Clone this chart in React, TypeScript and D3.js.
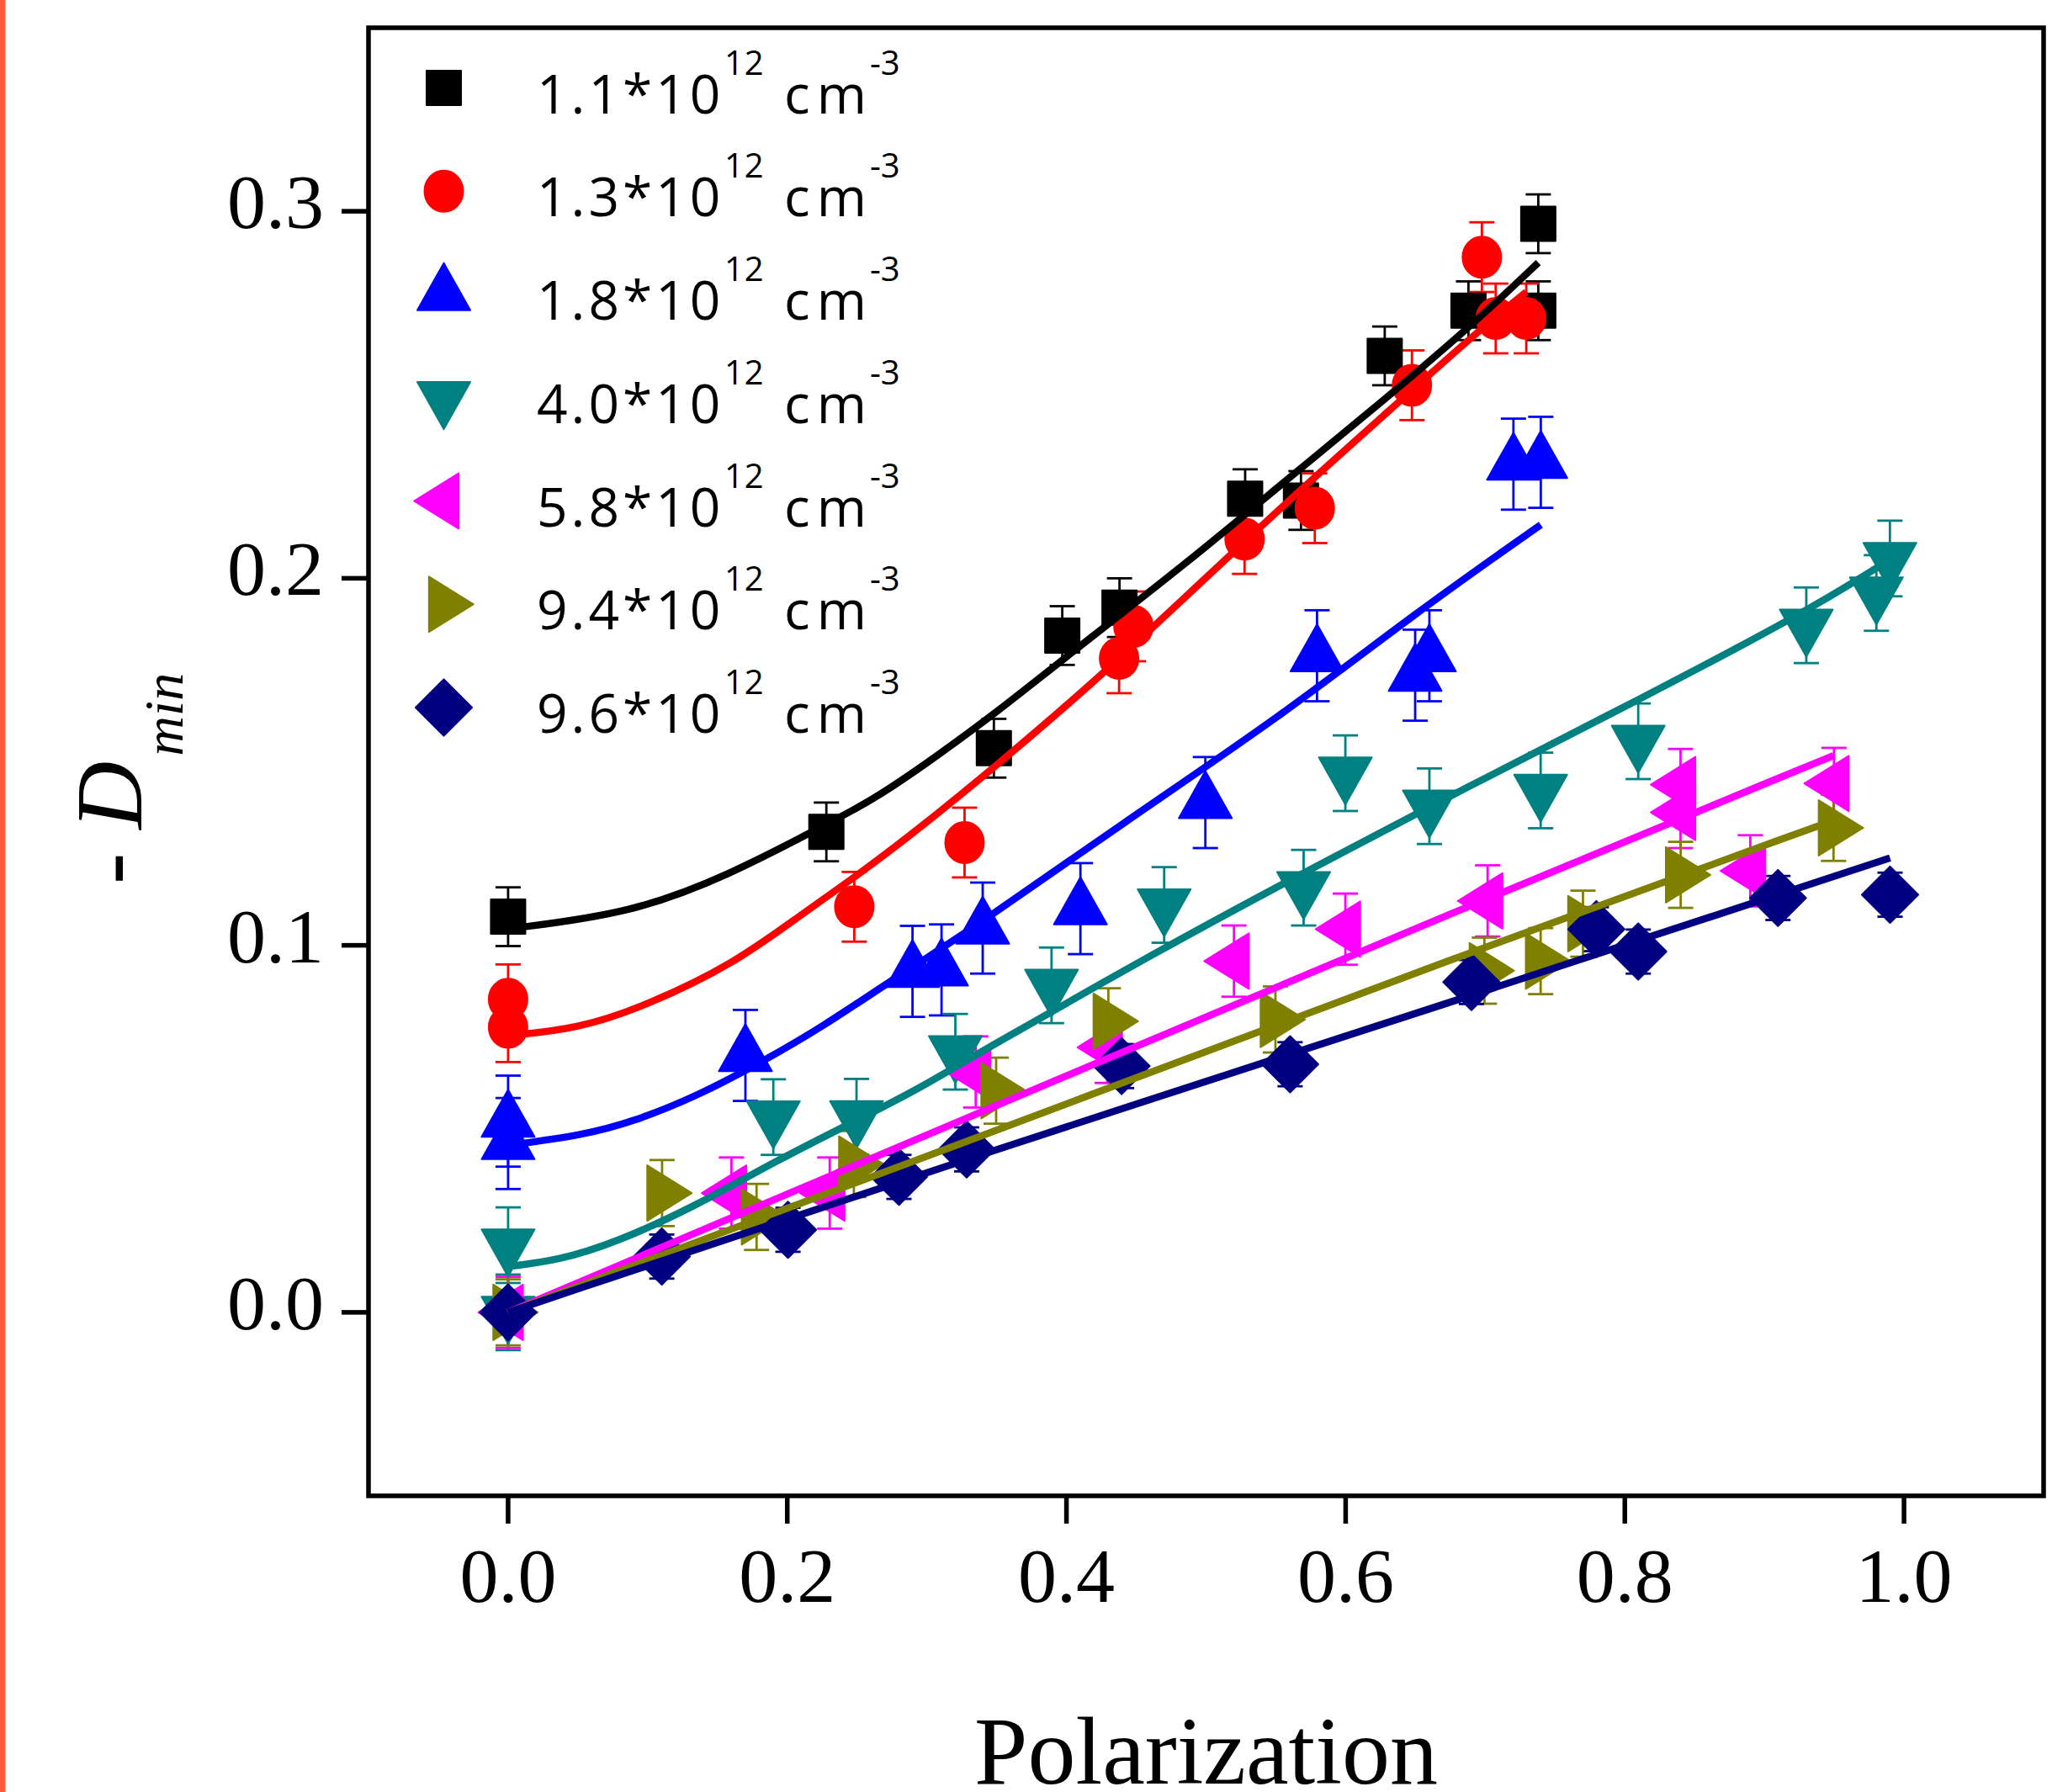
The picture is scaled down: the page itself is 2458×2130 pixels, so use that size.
import React, { useEffect } from "react";
import * as d3 from "d3";

const W = 2458;
const H = 2130;

// ---------- data ----------
const xTicks = [0, 0.2, 0.4, 0.6, 0.8, 1.0];
const yTicks = [0, 0.1, 0.2, 0.3];
const legendLabels = ["1.1", "1.3", "1.8", "4.0", "5.8", "9.4", "9.6"];
const seriesColors = ["#000000", "#FF0000", "#0000FF", "#008080", "#FF00FF", "#808000", "#000080"];
const seriesShapes = ["square", "circle", "up", "down", "left", "right", "diamond"];
const seriesErr = [0.008, 0.0095, 0.0124, 0.0103, 0.0097, 0.009, 0.006];

const blackX = [0, 0.228, 0.348, 0.397, 0.438, 0.528, 0.568, 0.628, 0.688, 0.738, 0.738];
const blackY = [0.1078, 0.1309, 0.1537, 0.1844, 0.192, 0.2217, 0.2212, 0.2606, 0.2729, 0.2729, 0.2966];

const redX = [0, 0, 0.248, 0.327, 0.4377, 0.448, 0.5276, 0.5779, 0.6475, 0.6976, 0.7075, 0.7294];
const redY = [0.0853, 0.0777, 0.1105, 0.128, 0.1782, 0.1869, 0.2107, 0.2191, 0.2526, 0.2875, 0.2708, 0.2708];

const blueX = [0, 0, 0.17, 0.2897, 0.3105, 0.34, 0.41, 0.4995, 0.5795, 0.6498, 0.66, 0.7202, 0.7398];
const blueY = [0.0521, 0.046, 0.07, 0.0929, 0.0933, 0.1047, 0.11, 0.1389, 0.1789, 0.1736, 0.1789, 0.2311, 0.2316];

const tealX = [0, 0, 0.19, 0.2496, 0.3204, 0.3893, 0.47, 0.5699, 0.5998, 0.66, 0.7397, 0.8096, 0.93, 0.9802, 0.9899];
const tealY = [0.0183, 0.0, 0.0532, 0.0533, 0.071, 0.0891, 0.111, 0.1157, 0.1469, 0.1379, 0.1422, 0.1556, 0.1872, 0.196, 0.2054];

const magentaX = [0, 0.16, 0.2304, 0.335, 0.4292, 0.52, 0.5998, 0.7017, 0.8399, 0.8399, 0.8899, 0.9498];
const magentaY = [0, 0.0325, 0.0325, 0.0655, 0.0722, 0.0957, 0.1044, 0.1121, 0.1438, 0.1362, 0.1203, 0.1441];

const oliveX = [0, 0.1103, 0.178, 0.2477, 0.3496, 0.43, 0.5497, 0.6994, 0.7397, 0.77, 0.84, 0.9495];
const oliveY = [0, 0.0325, 0.026, 0.0404, 0.0604, 0.0793, 0.0798, 0.0931, 0.0957, 0.1059, 0.1192, 0.132];

const navyX = [0, 0.1101, 0.2005, 0.28, 0.3285, 0.4395, 0.5602, 0.6901, 0.7796, 0.8096, 0.9097, 0.99];
const navyY = [0, 0.0152, 0.0225, 0.0369, 0.0444, 0.0671, 0.0676, 0.09, 0.1044, 0.0983, 0.1129, 0.1138];

// fitted curves
const blackFitX = [0, 0.09, 0.16, 0.2154, 0.2616, 0.3069, 0.35, 0.395, 0.4884, 0.5576, 0.6268, 0.6959, 0.738];
const blackFitY = [0.1045, 0.1088, 0.1195, 0.1305, 0.1395, 0.1515, 0.1635, 0.1772, 0.2048, 0.2268, 0.2483, 0.2708, 0.286];

const redFitX = [0, 0.05, 0.1, 0.1624, 0.2086, 0.25, 0.2915, 0.35, 0.4192, 0.4884, 0.5576, 0.6268, 0.6959, 0.7294];
const redFitY = [0.0754, 0.0772, 0.0837, 0.0951, 0.108, 0.119, 0.1309, 0.149, 0.1715, 0.196, 0.2207, 0.2442, 0.2677, 0.278];

const blueFitX = [0, 0.054, 0.0886, 0.1348, 0.1808, 0.227, 0.2731, 0.3349, 0.4395, 0.5548, 0.6498, 0.7398];
const blueFitY = [0.0455, 0.0483, 0.0518, 0.0588, 0.068, 0.0782, 0.0901, 0.105, 0.1331, 0.1627, 0.1905, 0.2146];

const tealFitX = [0, 0.0356, 0.0771, 0.1347, 0.1924, 0.2499, 0.2962, 0.3349, 0.4672, 0.5594, 0.6904, 0.8096, 0.93, 0.9819];
const tealFitY = [0.0125, 0.0141, 0.019, 0.029, 0.0414, 0.0523, 0.0613, 0.0702, 0.0988, 0.1177, 0.1438, 0.1668, 0.1909, 0.2032];

const magentaFitX = [0, 0.329, 0.6904, 0.9495];
const magentaFitY = [0, 0.053, 0.1112, 0.1517];

const oliveFitX = [0, 0.329, 0.6904, 0.9495];
const oliveFitY = [0, 0.0465, 0.0985, 0.134];

const navyFitX = [0, 0.329, 0.6904, 0.99];
const navyFitY = [0, 0.042, 0.0863, 0.1238];

const pointXs = [blackX, redX, blueX, tealX, magentaX, oliveX, navyX];
const pointYs = [blackY, redY, blueY, tealY, magentaY, oliveY, navyY];
const fitXs = [blackFitX, redFitX, blueFitX, tealFitX, magentaFitX, oliveFitX, navyFitX];
const fitYs = [blackFitY, redFitY, blueFitY, tealFitY, magentaFitY, oliveFitY, navyFitY];

// ---------- marker shapes ----------
function markerPath(shape: string): string {
  switch (shape) {
    case "square": {
      const s = 20.5;
      return `M${-s},${-s}H${s}V${s}H${-s}Z`;
    }
    case "circle": {
      const rx = 23, ry = 24.5;
      return `M${rx},0A${rx},${ry} 0 1,1 ${-rx},0A${rx},${ry} 0 1,1 ${rx},0Z`;
    }
    case "up": {
      const b = 63, h = 56;
      return `M0,${(-2 * h) / 3}L${b / 2},${h / 3}L${-b / 2},${h / 3}Z`;
    }
    case "down": {
      const b = 63, h = 56;
      return `M0,${(2 * h) / 3}L${b / 2},${-h / 3}L${-b / 2},${-h / 3}Z`;
    }
    case "left": {
      const b = 66, w = 53;
      return `M${(-2 * w) / 3},0L${w / 3},${-b / 2}L${w / 3},${b / 2}Z`;
    }
    case "right": {
      const b = 66, w = 53;
      return `M${(2 * w) / 3},0L${-w / 3},${-b / 2}L${-w / 3},${b / 2}Z`;
    }
    default: {
      const a = 33.5;
      return `M0,${-a}L${a},0L0,${a}L${-a},0Z`;
    }
  }
}

export default function App() {
  useEffect(() => {
    document.body.style.margin = "0";
  }, []);

  const x = d3.scaleLinear().domain([-0.1, 1.1]).range([438, 2429]);
  const y = d3.scaleLinear().domain([-0.05, 0.35]).range([1778, 33]);
  const line = d3
    .line<[number, number]>()
    .x((d) => x(d[0]))
    .y((d) => y(d[1]))
    .curve(d3.curveBasis);

  const serifFont = "'Liberation Serif', 'Times New Roman', serif";
  const sansFont = "'Open Sans', 'Noto Sans', sans-serif";
  const capHalf = 15;

  return (
    <svg
      width={W}
      height={H}
      viewBox={`0 0 ${W} ${H}`}
      style={{ display: "block", position: "absolute", left: 0, top: 0, background: "#fff" }}
    >
      <rect x={0} y={0} width={W} height={H} fill="#ffffff" />
      <rect x={0} y={0} width={6.5} height={H} fill="#FF5B3F" />

      {/* error bars */}
      {pointXs.map((xs, si) => (
        <g key={`eb${si}`} stroke={seriesColors[si]} strokeWidth={2.8} fill="none">
          {xs.map((xv, i) => {
            const cx = x(xv);
            const yv = pointYs[si][i];
            const e = seriesErr[si];
            const yt = y(yv + e);
            const yb = y(yv - e);
            return (
              <g key={i}>
                <line x1={cx} x2={cx} y1={yt} y2={yb} />
                <line x1={cx - capHalf} x2={cx + capHalf} y1={yt} y2={yt} />
                <line x1={cx - capHalf} x2={cx + capHalf} y1={yb} y2={yb} />
              </g>
            );
          })}
        </g>
      ))}

      {/* markers */}
      {pointXs.map((xs, si) => (
        <g key={`mk${si}`} fill={seriesColors[si]} stroke={seriesColors[si]} strokeWidth={2} strokeLinejoin="round">
          {xs.map((xv, i) => (
            <path
              key={i}
              d={markerPath(seriesShapes[si])}
              transform={`translate(${x(xv)},${y(pointYs[si][i])})`}
            />
          ))}
        </g>
      ))}

      {/* fit lines */}
      {fitXs.map((fx, si) => (
        <path
          key={`fit${si}`}
          d={line(fx.map((v, i) => [v, fitYs[si][i]] as [number, number])) || ""}
          fill="none"
          stroke={seriesColors[si]}
          strokeWidth={8.5}
          strokeLinejoin="round"
        />
      ))}

      {/* frame */}
      <rect x={438} y={33} width={2429 - 438} height={1778 - 33} fill="none" stroke="#000" strokeWidth={5.5} />

      {/* y ticks */}
      {yTicks.map((t) => (
        <g key={`yt${t}`}>
          <line x1={406} x2={438} y1={y(t)} y2={y(t)} stroke="#000" strokeWidth={5.5} />
          <text
            x={385}
            y={y(t) + 20}
            textAnchor="end"
            fontFamily={serifFont}
            fontSize={92}
            fill="#000"
          >
            {d3.format(".1f")(t)}
          </text>
        </g>
      ))}

      {/* x ticks */}
      {xTicks.map((t) => (
        <g key={`xt${t}`}>
          <line x1={x(t)} x2={x(t)} y1={1778} y2={1811} stroke="#000" strokeWidth={5.5} />
          <text
            x={x(t)}
            y={1904}
            textAnchor="middle"
            fontFamily={serifFont}
            fontSize={92}
            fill="#000"
          >
            {d3.format(".1f")(t)}
          </text>
        </g>
      ))}

      {/* axis titles */}
      <text x={1433.5} y={2120} textAnchor="middle" fontFamily={serifFont} fontSize={114} fill="#000">
        Polarization
      </text>
      <text transform="translate(168,0) rotate(-90)" x={-1051} y={0} fontFamily={serifFont} fontSize={112} fill="#000">
        <tspan>- </tspan>
        <tspan fontStyle="italic">D</tspan>
        <tspan fontStyle="italic" fontSize={66} dx={6} dy={49}>
          min
        </tspan>
      </text>

      {/* legend */}
      {legendLabels.map((lab, i) => {
        const cy = 104.5 + 122.75 * i;
        return (
          <g key={`lg${i}`}>
            <path
              d={markerPath(seriesShapes[i])}
              transform={`translate(527.5,${cy})`}
              fill={seriesColors[i]}
              stroke={seriesColors[i]}
              strokeWidth={2}
              strokeLinejoin="round"
            />
            <text x={638} y={cy + 30} fontFamily={sansFont} fontSize={64} letterSpacing={4} fill="#000">
              {`${lab}*10`}
            </text>
            <text x={861} y={cy - 16} fontFamily={sansFont} fontSize={40} letterSpacing={1} fill="#000">
              12
            </text>
            <text x={932} y={cy + 30} fontFamily={sansFont} fontSize={64} letterSpacing={8} fill="#000">
              cm
            </text>
            <text x={1034} y={cy - 16} fontFamily={sansFont} fontSize={40} fill="#000">
              -3
            </text>
          </g>
        );
      })}
    </svg>
  );
}
